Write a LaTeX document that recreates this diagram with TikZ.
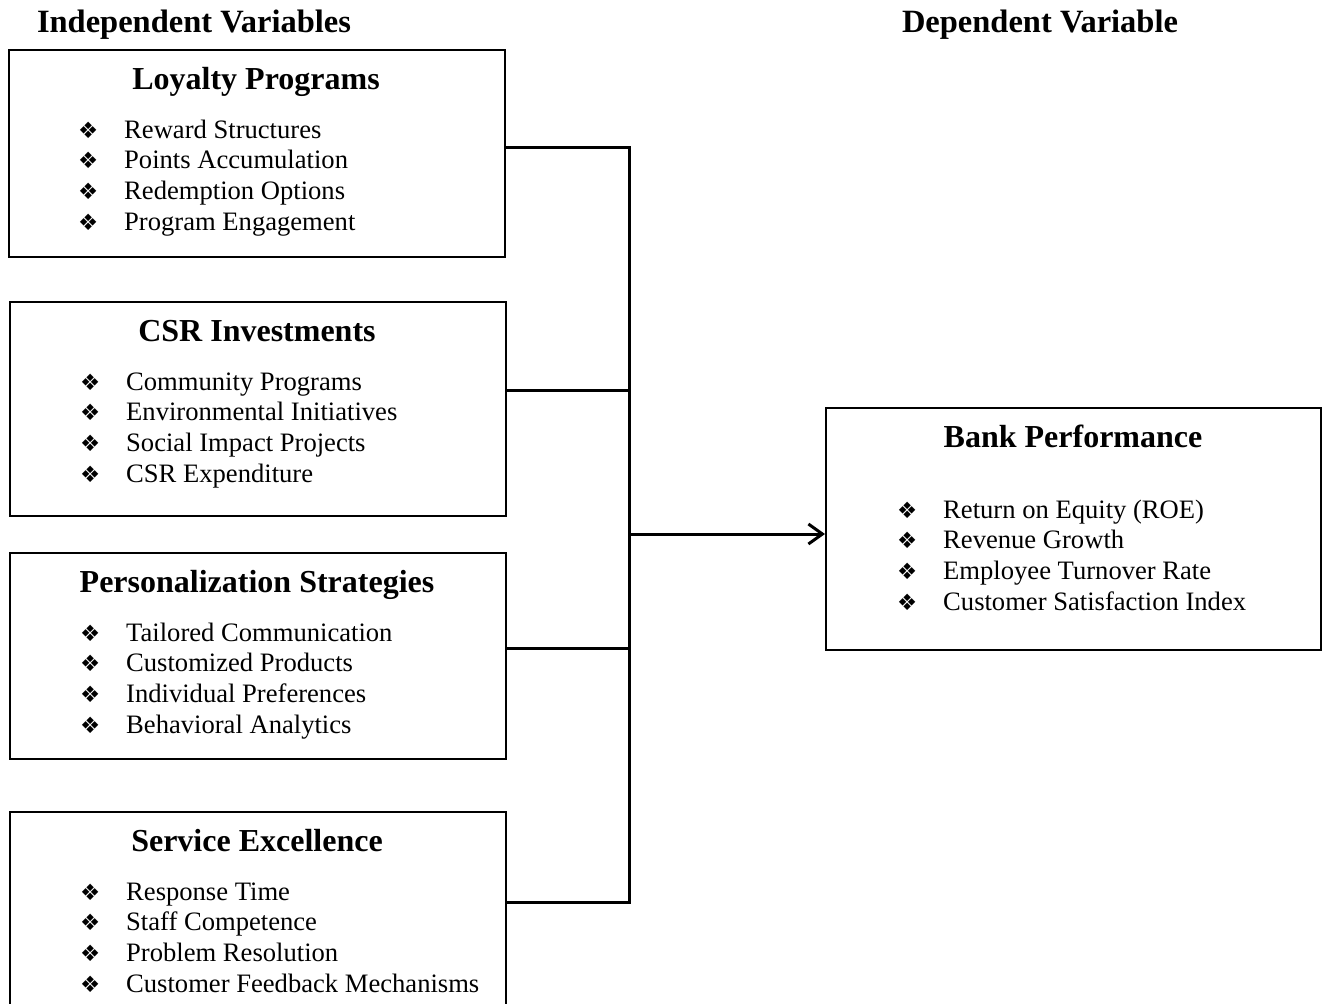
\documentclass[tikz,border=0pt]{standalone}
\usepackage{fontspec}
\setmainfont{Liberation Serif}
\newfontfamily\bulfont{DejaVu Sans}
\usetikzlibrary{arrows.meta}
\tikzset{
  box/.style={draw, line width=1.8pt, inner sep=0pt, rectangle, anchor=north west},
  ttl/.style={font=\fontsize{32}{38}\selectfont\bfseries, anchor=base, inner sep=0pt},
  hdr/.style={font=\fontsize{32.5}{38}\selectfont\bfseries, anchor=base, inner sep=0pt},
  itm/.style={font=\fontsize{26.6}{30.7}\selectfont, anchor=base west, inner sep=0pt},
  conn/.style={line width=3pt},
}
\newcommand{\bul}{\makebox[46pt][l]{\raisebox{0pt}{\bulfont\fontsize{22.5}{26}\selectfont ❖}}}
\begin{document}
\begin{tikzpicture}[x=1pt,y=-1pt]
\clip (0,0) rectangle (1323,1004);
% headers
\node[hdr] (hind) at (194,32) {Independent Variables};
\node[hdr] (hdep) at (1040,32) {Dependent Variable};
% boxes
\node[box, minimum width=496pt, minimum height=207pt] (lp) at (8,49) {};
\node[box, minimum width=496pt, minimum height=214pt] (csr) at (9,301) {};
\node[box, minimum width=496pt, minimum height=206pt] (ps) at (9,552) {};
\node[box, minimum width=496pt, minimum height=230pt] (se) at (9,811) {};
\node[box, minimum width=495pt, minimum height=242pt] (bp) at (825,407) {};
% titles
\node[ttl] (lpt) at (256,89) {Loyalty Programs};
\node[ttl] (csrt) at (257,341) {CSR Investments};
\node[ttl] (pst) at (257,592) {Personalization Strategies};
\node[ttl] (set) at (257,851) {Service Excellence};
\node[ttl] (bpt) at (1073,447) {Bank Performance};
% items
\foreach \t [count=\i] in {Reward Structures, Points Accumulation, Redemption Options, Program Engagement}
  \node[itm] (lpi\i) at (78,{138+30.7*(\i-1)}) {\bul\t};
\foreach \t [count=\i] in {Community Programs, Environmental Initiatives, Social Impact Projects, CSR Expenditure}
  \node[itm] (csri\i) at (80,{390+30.7*(\i-1)}) {\bul\t};
\foreach \t [count=\i] in {Tailored Communication, Customized Products, Individual Preferences, Behavioral Analytics}
  \node[itm] (psi\i) at (80,{641+30.7*(\i-1)}) {\bul\t};
\foreach \t [count=\i] in {Response Time, Staff Competence, Problem Resolution, Customer Feedback Mechanisms}
  \node[itm] (sei\i) at (80,{900+30.7*(\i-1)}) {\bul\t};
\foreach \t [count=\i] in {Return on Equity (ROE), Revenue Growth, Employee Turnover Rate, Customer Satisfaction Index}
  \node[itm] (bpi\i) at (897,{518+30.7*(\i-1)}) {\bul\t};
% connectors
\coordinate (j1) at (629,147);
\coordinate (j2) at (629,390);
\coordinate (j3) at (629,648);
\coordinate (j4) at (629,902);
\coordinate (ja) at (629,534);
\draw[conn] (lp.east |- j1) -- (j1);
\draw[conn] (csr.east |- j2) -- (j2);
\draw[conn] (ps.east |- j3) -- (j3);
\draw[conn] (se.east |- j4) -- (j4);
\draw[conn, line cap=rect] (j1) -- (j4);
\draw[conn, -{Straight Barb[length=14pt,width=20pt,line width=3pt]}] (ja) -- (bp.west |- ja);
\end{tikzpicture}
\end{document}
